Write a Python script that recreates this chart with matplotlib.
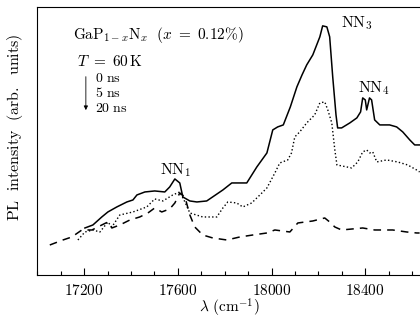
import matplotlib.pyplot as plt
from matplotlib.ticker import MultipleLocator

plt.rcParams['mathtext.fontset'] = 'cm'
plt.rcParams['font.family'] = 'serif'
plt.rcParams['font.serif'] = ['DejaVu Serif']

# 0 ns spectrum (solid)
x_0ns = [17203, 17237, 17275, 17301, 17339, 17382, 17408, 17425, 17459, 17501,
         17544, 17565, 17587, 17608, 17621, 17651, 17681, 17723, 17792, 17830,
         17894, 17937, 17980, 18005, 18026, 18050, 18080, 18108, 18130, 18150,
         18176, 18206, 18218, 18236, 18248, 18261, 18275, 18282, 18299, 18334,
         18364, 18380, 18389, 18400, 18406, 18418, 18427, 18440, 18462, 18504,
         18534, 18560, 18590, 18611, 18632]
y_0ns = [47, 50, 58, 63, 68, 73, 75, 80, 83, 84,
         83, 88, 96, 92, 78, 74, 73, 74, 85, 92,
         92, 108, 122, 145, 148, 150, 168, 188, 200, 210,
         220, 238, 249, 248, 238, 198, 160, 147, 147, 152,
         157, 163, 177, 175, 165, 177, 175, 155, 150, 150,
         148, 143, 135, 130, 130]

# 5 ns spectrum (dotted)
x_5ns = [17173, 17203, 17237, 17267, 17301, 17318, 17352, 17408, 17467, 17501,
         17536, 17578, 17608, 17630, 17651, 17706, 17766, 17792, 17813, 17851,
         17877, 17915, 17950, 17980, 18014, 18035, 18069, 18085, 18099, 18120,
         18150, 18184, 18206, 18227, 18240, 18257, 18270, 18279, 18321, 18342,
         18368, 18389, 18406, 18419, 18432, 18449, 18491, 18538, 18581, 18619,
         18632]
y_5ns = [35, 43, 45, 43, 53, 48, 60, 63, 68, 76,
         74, 80, 83, 73, 62, 58, 58, 67, 73, 72,
         68, 72, 80, 87, 102, 112, 115, 122, 138, 143,
         152, 160, 172, 173, 165, 152, 125, 110, 108, 107,
         113, 123, 125, 122, 123, 113, 115, 113, 110, 105,
         103]

# 20 ns spectrum (dashed)
x_20ns = [17053, 17109, 17147, 17190, 17233, 17275, 17301, 17318, 17352, 17395,
          17437, 17472, 17501, 17531, 17565, 17587, 17608, 17630, 17651, 17672,
          17706, 17749, 17809, 17864, 17920, 17980, 18014, 18078, 18112, 18176,
          18227, 18248, 18270, 18299, 18389, 18440, 18517, 18577, 18620, 18632]
y_20ns = [30, 35, 38, 45, 45, 50, 53, 47, 50, 55,
          58, 62, 67, 63, 66, 72, 82, 78, 60, 48,
          40, 37, 35, 38, 40, 42, 45, 43, 52, 54,
          57, 53, 48, 45, 47, 45, 45, 43, 42, 42]

fig = plt.figure(figsize=(4.2, 3.2), dpi=100)
ax = fig.add_axes([0.089, 0.1406, 0.948, 0.838])

ax.plot(x_0ns, y_0ns, color='black', lw=1.1, ls='-')
ax.plot(x_5ns, y_5ns, color='black', lw=1.0, ls=':')
ax.plot(x_20ns, y_20ns, color='black', lw=1.1, ls=(0, (5, 4)))

ax.set_xlim(17000, 18700)
ax.set_ylim(0, 268)
ax.spines['right'].set_visible(False)
ax.xaxis.set_major_locator(MultipleLocator(400))
ax.xaxis.set_minor_locator(MultipleLocator(100))
ax.tick_params(axis='x', which='major', direction='in', length=5, width=0.8, labelsize=11, pad=6)
ax.tick_params(axis='x', which='minor', direction='in', length=3, width=0.8)
ax.set_yticks([])
ax.xaxis.set_major_formatter(plt.FuncFormatter(lambda v, p: r'$\mathrm{%d}$' % v))

# axis labels placed by hand so they stay inside the canvas
fig.text(229 / 420, 1 - 308 / 320, r'$\lambda\ (\mathrm{cm}^{-1})$', fontsize=11,
         ha='center', va='center')
fig.text(15 / 420, 1 - 127 / 320, r'$\mathrm{PL\ \ intensity\ \ (arb.\ \ units)}$',
         fontsize=11.5, ha='center', va='center', rotation=90)

# annotations
ax.text(17150, 240, r'$\mathrm{GaP}_{1-x}\mathrm{N}_x\ \ (x\ =\ 0.12\%)$', fontsize=11, va='center')
ax.text(17170, 213, r'$T\ =\ 60\,\mathrm{K}$', fontsize=11, va='center')
ax.text(17245, 197, r'$\mathrm{0\ ns}$', fontsize=10, va='center')
ax.text(17245, 182, r'$\mathrm{5\ ns}$', fontsize=10, va='center')
ax.text(17245, 167, r'$\mathrm{20\ ns}$', fontsize=10, va='center')
ax.annotate('', xy=(17207, 162), xytext=(17207, 201),
            arrowprops=dict(arrowstyle='-|>', color='black', lw=0.6, mutation_scale=6))
ax.text(17590, 105, r'$\mathrm{NN}_1$', fontsize=11.5, ha='center', va='center')
ax.text(18365, 252, r'$\mathrm{NN}_3$', fontsize=11.5, ha='center', va='center')
ax.text(18435, 187, r'$\mathrm{NN}_4$', fontsize=11.5, ha='center', va='center')

fig.savefig('out.png', dpi=100)
